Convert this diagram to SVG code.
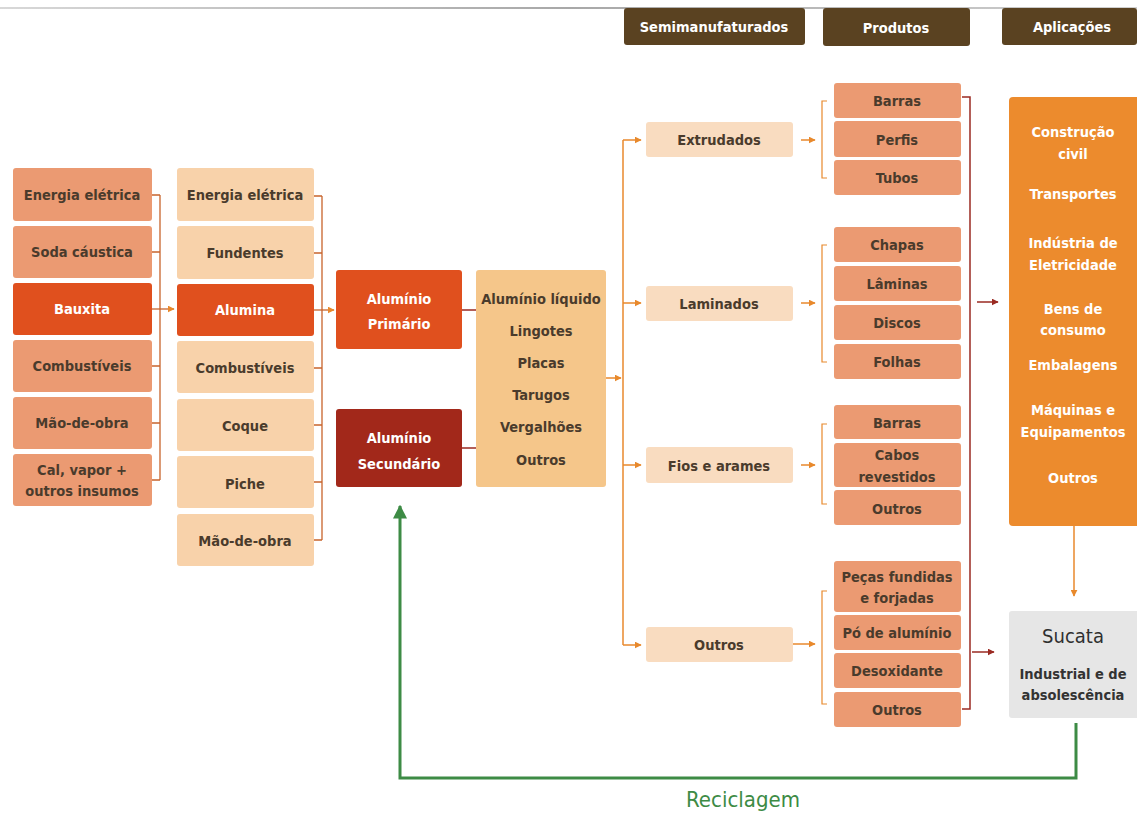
<svg xmlns="http://www.w3.org/2000/svg" width="1137" height="814" viewBox="0 0 1137 814">
<defs>
<linearGradient id="topline" x1="0" x2="1" y1="0" y2="0"><stop offset="0" stop-color="#d8d8d8"/><stop offset="0.5" stop-color="#a8a8a8"/><stop offset="1" stop-color="#d0d0d0"/></linearGradient>
<marker id="aO" viewBox="0 0 10 10" refX="9" refY="5" markerWidth="7" markerHeight="7" markerUnits="userSpaceOnUse" orient="auto"><path d="M0,0 L10,5 L0,10 z" fill="#e8892c"/></marker>
<marker id="aR" viewBox="0 0 10 10" refX="9" refY="5" markerWidth="7" markerHeight="7" markerUnits="userSpaceOnUse" orient="auto"><path d="M0,0 L10,5 L0,10 z" fill="#9a2a22"/></marker>
<marker id="aG" viewBox="0 0 10 10" refX="9" refY="5" markerWidth="14" markerHeight="14" markerUnits="userSpaceOnUse" orient="auto"><path d="M0,0 L10,5 L0,10 z" fill="#3d8b45"/></marker>
</defs>
<style>
text{font-family:"Liberation Sans Narrow","DejaVu Sans Condensed","Liberation Sans",sans-serif;font-weight:bold;text-anchor:middle;font-size:14.5px;fill:#4a3b2c}
.w{fill:#ffffff}
.hdr{fill:#5a4221}
.c1{fill:#eb9a72}
.c2{fill:#f8d2aa}
.dk{fill:#e0501e}
.mid{fill:#f5c68a}
.semi{fill:#f9dcc0}
.prod{fill:#eb9a72}
.app{fill:#ec8b2d}
.suc{fill:#e6e6e6}
.lb{stroke:#c8642c;stroke-width:1.3;fill:none}
.lo{stroke:#e8892c;stroke-width:1.5;fill:none}
.lr{stroke:#9a2a22;stroke-width:1.5;fill:none}
.lg{stroke:#3d8b45;stroke-width:3;fill:none}
</style>
<rect x="0" y="7" width="1137" height="2" fill="url(#topline)"/>
<g id="headers">
<g id="h-semi"><rect class="hdr" x="624" y="8" width="181" height="37" rx="3"/><text class="w" x="714" y="32">Semimanufaturados</text></g>
<g id="h-prod"><rect class="hdr" x="823" y="8" width="147" height="38" rx="3"/><text class="w" x="896" y="33">Produtos</text></g>
<g id="h-apl"><rect class="hdr" x="1002" y="8" width="135" height="37" rx="3"/><text class="w" x="1072" y="32">Aplicações</text></g>
</g>
<g id="connectors">
<path class="lb" d="M152,195 H160 M152,252 H160 M152,366 H160 M152,423 H160 M152,480 H160 M160,195 V480"/>
<path class="lb" d="M152,309 H174" marker-end="url(#aO)"/>
<path class="lb" d="M314,196 H322 M314,253 H322 M314,368 H322 M314,425 H322 M314,482 H322 M314,540 H322 M322,196 V540"/>
<path class="lb" d="M314,310 H334" marker-end="url(#aO)"/>
<path class="lr" d="M462,310 H476 M462,448 H476"/>
<path class="lo" d="M606,378 H621" marker-end="url(#aO)"/>
<path class="lo" d="M623,140 V645"/>
<path class="lo" d="M623,140 H641" marker-end="url(#aO)"/>
<path class="lo" d="M623,303 H641" marker-end="url(#aO)"/>
<path class="lo" d="M623,465 H641" marker-end="url(#aO)"/>
<path class="lo" d="M623,645 H641" marker-end="url(#aO)"/>
<path class="lo" d="M801,140 H815" marker-end="url(#aO)"/>
<path class="lo" d="M801,303 H815" marker-end="url(#aO)"/>
<path class="lo" d="M801,465 H815" marker-end="url(#aO)"/>
<path class="lo" d="M793,644 H815" marker-end="url(#aO)"/>
<path class="lo" style="stroke-width:1.2" d="M827,101 H822 V178 H827 M827,245 H822 V362 H827 M827,424 H822 V504 H827 M827,591 H822 V704 H827"/>
<path class="lr" d="M962,97 H970 V709 H962"/>
<path class="lr" d="M977,302 H998" marker-end="url(#aR)"/>
<path class="lr" d="M972,652 H994" marker-end="url(#aR)"/>
<path class="lo" d="M1074,526 V596" marker-end="url(#aO)"/>
<path class="lg" d="M1076,723 V778 H400 V506" marker-end="url(#aG)"/>
</g>
<g id="col1">
<g id="n-energia1"><rect class="c1" x="13" y="168" width="139" height="53" rx="3"/><text x="82" y="200">Energia elétrica</text></g>
<g id="n-soda"><rect class="c1" x="13" y="226" width="139" height="52" rx="3"/><text x="82" y="257">Soda cáustica</text></g>
<g id="n-bauxita"><rect class="dk" x="13" y="283" width="139" height="52" rx="3"/><text class="w" x="82" y="314">Bauxita</text></g>
<g id="n-comb1"><rect class="c1" x="13" y="340" width="139" height="52" rx="3"/><text x="82" y="371">Combustíveis</text></g>
<g id="n-mao1"><rect class="c1" x="13" y="397" width="139" height="52" rx="3"/><text x="82" y="428">Mão-de-obra</text></g>
<g id="n-cal"><rect class="c1" x="13" y="454" width="139" height="52" rx="3"/><text x="82" y="475">Cal, vapor +</text><text x="82" y="496">outros insumos</text></g>
</g>
<g id="col2">
<g id="n-energia2"><rect class="c2" x="177" y="168" width="137" height="53" rx="3"/><text x="245" y="200">Energia elétrica</text></g>
<g id="n-fundentes"><rect class="c2" x="177" y="226" width="137" height="53" rx="3"/><text x="245" y="258">Fundentes</text></g>
<g id="n-alumina"><rect class="dk" x="177" y="284" width="137" height="52" rx="3"/><text class="w" x="245" y="315">Alumina</text></g>
<g id="n-comb2"><rect class="c2" x="177" y="341" width="137" height="52" rx="3"/><text x="245" y="373">Combustíveis</text></g>
<g id="n-coque"><rect class="c2" x="177" y="399" width="137" height="52" rx="3"/><text x="245" y="431">Coque</text></g>
<g id="n-piche"><rect class="c2" x="177" y="456" width="137" height="52" rx="3"/><text x="245" y="489">Piche</text></g>
<g id="n-mao2"><rect class="c2" x="177" y="514" width="137" height="52" rx="3"/><text x="245" y="546">Mão-de-obra</text></g>
</g>
<g id="n-primario"><rect class="dk" x="336" y="270" width="126" height="79" rx="3"/><text class="w" x="399" y="304">Alumínio</text><text class="w" x="399" y="329">Primário</text></g>
<g id="n-secundario"><rect x="336" y="409" width="126" height="78" rx="3" fill="#a2281a"/><text class="w" x="399" y="443">Alumínio</text><text class="w" x="399" y="469">Secundário</text></g>
<g id="n-mid"><rect class="mid" x="476" y="270" width="130" height="217" rx="3"/>
<text x="541" y="304">Alumínio líquido</text><text x="541" y="336">Lingotes</text><text x="541" y="368">Placas</text><text x="541" y="400">Tarugos</text><text x="541" y="432">Vergalhões</text><text x="541" y="465">Outros</text></g>
<g id="semi">
<g id="n-extrudados"><rect class="semi" x="646" y="122" width="147" height="35" rx="3"/><text x="719" y="145">Extrudados</text></g>
<g id="n-laminados"><rect class="semi" x="646" y="286" width="147" height="35" rx="3"/><text x="719" y="309">Laminados</text></g>
<g id="n-fios"><rect class="semi" x="646" y="447" width="147" height="36" rx="3"/><text x="719" y="471">Fios e arames</text></g>
<g id="n-outros-semi"><rect class="semi" x="646" y="627" width="147" height="35" rx="3"/><text x="719" y="650">Outros</text></g>
</g>
<g id="prod">
<g id="n-barras1"><rect class="prod" x="834" y="83" width="127" height="35" rx="3"/><text x="897" y="106">Barras</text></g>
<g id="n-perfis"><rect class="prod" x="834" y="121" width="127" height="36" rx="3"/><text x="897" y="145">Perfis</text></g>
<g id="n-tubos"><rect class="prod" x="834" y="160" width="127" height="35" rx="3"/><text x="897" y="183">Tubos</text></g>
<g id="n-chapas"><rect class="prod" x="834" y="227" width="127" height="35" rx="3"/><text x="897" y="250">Chapas</text></g>
<g id="n-laminas"><rect class="prod" x="834" y="266" width="127" height="35" rx="3"/><text x="897" y="289">Lâminas</text></g>
<g id="n-discos"><rect class="prod" x="834" y="305" width="127" height="35" rx="3"/><text x="897" y="328">Discos</text></g>
<g id="n-folhas"><rect class="prod" x="834" y="344" width="127" height="35" rx="3"/><text x="897" y="367">Folhas</text></g>
<g id="n-barras2"><rect class="prod" x="834" y="405" width="127" height="34" rx="3"/><text x="897" y="428">Barras</text></g>
<g id="n-cabos"><rect class="prod" x="834" y="443" width="127" height="44" rx="3"/><text x="897" y="460">Cabos</text><text x="897" y="482">revestidos</text></g>
<g id="n-outros-fios"><rect class="prod" x="834" y="490" width="127" height="35" rx="3"/><text x="897" y="514">Outros</text></g>
<g id="n-pecas"><rect class="prod" x="834" y="561" width="127" height="51" rx="3"/><text x="897" y="582">Peças fundidas</text><text x="897" y="603">e forjadas</text></g>
<g id="n-po"><rect class="prod" x="834" y="615" width="127" height="35" rx="3"/><text x="897" y="638">Pó de alumínio</text></g>
<g id="n-desox"><rect class="prod" x="834" y="653" width="127" height="35" rx="3"/><text x="897" y="676">Desoxidante</text></g>
<g id="n-outros-prod"><rect class="prod" x="834" y="692" width="127" height="35" rx="3"/><text x="897" y="715">Outros</text></g>
</g>
<g id="n-aplicacoes"><rect class="app" x="1009" y="97" width="135" height="429" rx="4"/>
<text class="w" x="1073" y="137">Construção</text><text class="w" x="1073" y="159">civil</text>
<text class="w" x="1073" y="199">Transportes</text>
<text class="w" x="1073" y="248">Indústria de</text><text class="w" x="1073" y="270">Eletricidade</text>
<text class="w" x="1073" y="314">Bens de</text><text class="w" x="1073" y="335">consumo</text>
<text class="w" x="1073" y="370">Embalagens</text>
<text class="w" x="1073" y="415">Máquinas e</text><text class="w" x="1073" y="437">Equipamentos</text>
<text class="w" x="1073" y="483">Outros</text></g>
<g id="n-sucata"><rect class="suc" x="1009" y="611" width="135" height="107" rx="3"/>
<text x="1073" y="643" style="font-size:20px;font-weight:normal;fill:#2f2f2f">Sucata</text>
<text x="1073" y="679" style="fill:#333">Industrial e de</text><text x="1073" y="700" style="fill:#333">absolescência</text></g>
<text x="743" y="807" style="font-size:22px;font-weight:normal;fill:#3d8b45">Reciclagem</text>
</svg>
